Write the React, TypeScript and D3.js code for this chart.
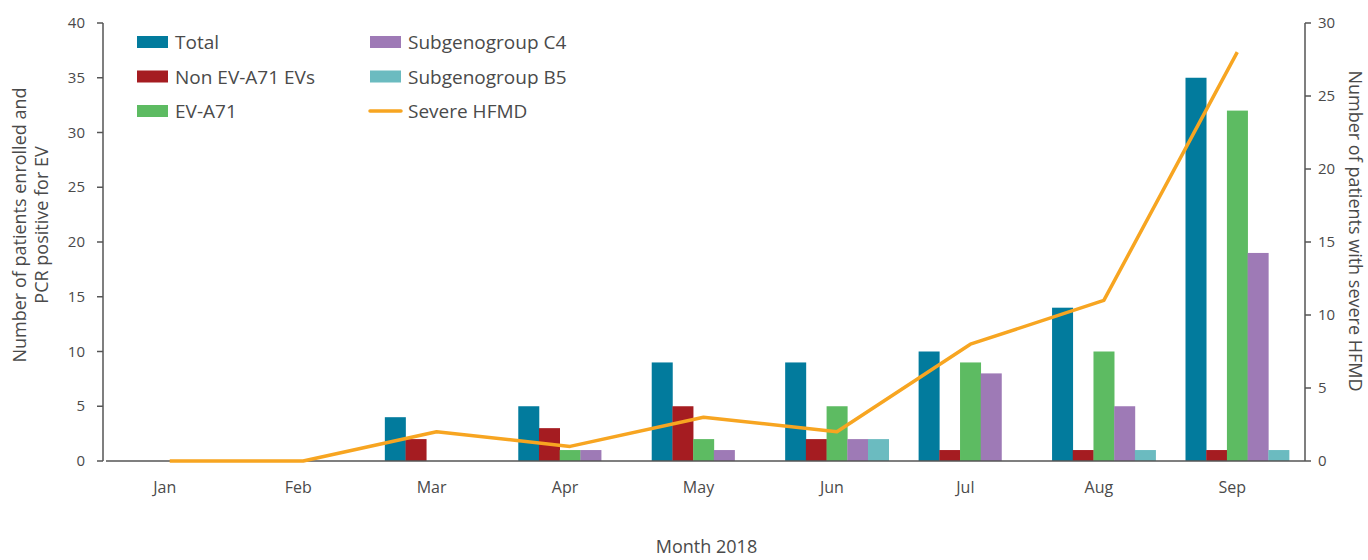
import React from "react";
import * as d3 from "d3";

const months = ["Jan", "Feb", "Mar", "Apr", "May", "Jun", "Jul", "Aug", "Sep"];
const total = [0, 0, 4, 5, 9, 9, 10, 14, 35];
const nonEVA71 = [0, 0, 2, 3, 5, 2, 1, 1, 1];
const evA71 = [0, 0, 0, 1, 2, 5, 9, 10, 32];
const c4 = [0, 0, 0, 1, 1, 2, 8, 5, 19];
const b5 = [0, 0, 0, 0, 0, 2, 0, 1, 1];
const severe = [0, 0, 2, 1, 3, 2, 8, 11, 28];
const leftTicks = [0, 5, 10, 15, 20, 25, 30, 35, 40];
const rightTicks = [0, 5, 10, 15, 20, 25, 30];

const seriesNames = ["Total", "Non EV-A71 EVs", "EV-A71", "Subgenogroup C4", "Subgenogroup B5"];
const seriesColors = ["#027B9D", "#A51C21", "#5DBB62", "#9E7AB6", "#6BBBC0"];
const lineColor = "#F7A521";

export default function App() {
  const W = 1368, H = 560;
  const left = 103, right = 1304, top = 23, bottom = 461;
  const font = "'Open Sans', 'Noto Sans', sans-serif";
  const textColor = "#4a4a4a";
  const axisColor = "#555";

  const x = d3.scaleBand<string>().domain(months).range([left, right]).paddingInner(0).paddingOuter(0);
  const groupW = x.bandwidth() * 0.776;
  const xs = d3.scaleBand<number>().domain([0, 1, 2, 3, 4]).range([0, groupW]);
  const yL = d3.scaleLinear().domain([0, 40]).range([bottom, top]);
  const yR = d3.scaleLinear().domain([0, 30]).range([bottom, top]);
  const series = [total, nonEVA71, evA71, c4, b5];

  const cx = (m: string) => (x(m) as number) + x.bandwidth() / 2;
  const line = d3.line<number>().x((_, i) => cx(months[i])).y((d) => yR(d));

  const legendItems = [
    { name: seriesNames[0], color: seriesColors[0], type: "bar", col: 0, row: 0 },
    { name: seriesNames[1], color: seriesColors[1], type: "bar", col: 0, row: 1 },
    { name: seriesNames[2], color: seriesColors[2], type: "bar", col: 0, row: 2 },
    { name: seriesNames[3], color: seriesColors[3], type: "bar", col: 1, row: 0 },
    { name: seriesNames[4], color: seriesColors[4], type: "bar", col: 1, row: 1 },
    { name: "Severe HFMD", color: lineColor, type: "line", col: 1, row: 2 },
  ];

  return (
    <svg width={W} height={H} style={{ display: "block", position: "absolute", left: 0, top: 0 }} fontFamily={font}>
      <rect x={0} y={0} width={W} height={H} fill="#fff" />
      {series.map((s, si) =>
        s.map((v, mi) =>
          v > 0 ? (
            <rect
              key={`${si}-${mi}`}
              x={cx(months[mi]) - groupW / 2 + (xs(si) as number)}
              y={yL(v)}
              width={xs.bandwidth() + 0.3}
              height={yL(0) - yL(v)}
              fill={seriesColors[si]}
            />
          ) : null
        )
      )}
      <line x1={106} x2={right + 1} y1={bottom} y2={bottom} stroke={axisColor} strokeWidth={1.5} />
      <path d={line(severe) as string} fill="none" stroke={lineColor} strokeWidth={3.5} strokeLinejoin="round" />
      {months.map((m) => (
        <text key={m} x={cx(m) - 5} y={493} textAnchor="middle" fontSize={16} fill={textColor}>
          {m}
        </text>
      ))}
      <text x={(left + right) / 2 + 3} y={553} textAnchor="middle" fontSize={18} fill={textColor}>
        Month 2018
      </text>
      <line x1={left} x2={left} y1={top} y2={bottom} stroke={axisColor} strokeWidth={1.5} />
      {leftTicks.map((t) => (
        <g key={t}>
          <line x1={left - 6} x2={left} y1={yL(t)} y2={yL(t)} stroke={axisColor} strokeWidth={1.5} />
          <text x={left - 18} y={yL(t) + 5} textAnchor="end" fontSize={15} fill={textColor}>
            {t}
          </text>
        </g>
      ))}
      <text transform={`translate(26,225) rotate(-90)`} textAnchor="middle" fontSize={18} fill={textColor}>
        Number of patients enrolled and
      </text>
      <text transform={`translate(48,225) rotate(-90)`} textAnchor="middle" fontSize={18} fill={textColor}>
        PCR positive for EV
      </text>
      <line x1={right + 1} x2={right + 1} y1={top} y2={bottom} stroke={axisColor} strokeWidth={1.5} />
      {rightTicks.map((t) => (
        <g key={t}>
          <line x1={right + 1} x2={right + 7} y1={yR(t)} y2={yR(t)} stroke={axisColor} strokeWidth={1.5} />
          <text x={right + 14} y={yR(t) + 5} textAnchor="start" fontSize={15} fill={textColor}>
            {t}
          </text>
        </g>
      ))}
      <text transform={`translate(1349,231) rotate(90)`} textAnchor="middle" fontSize={18} fill={textColor}>
        Number of patients with severe HFMD
      </text>
      {legendItems.map((it) => {
        const lx = it.col === 0 ? 137 : 370;
        const ly = 42 + it.row * 34.5;
        return (
          <g key={it.name}>
            {it.type === "bar" ? (
              <rect x={lx} y={ly - 6} width={31} height={12} fill={it.color} />
            ) : (
              <line x1={lx} x2={lx + 31} y1={ly} y2={ly} stroke={it.color} strokeWidth={3.5} strokeLinecap="round" />
            )}
            <text x={lx + 38} y={ly + 7} fontSize={19} fill={textColor}>
              {it.name}
            </text>
          </g>
        );
      })}
    </svg>
  );
}
